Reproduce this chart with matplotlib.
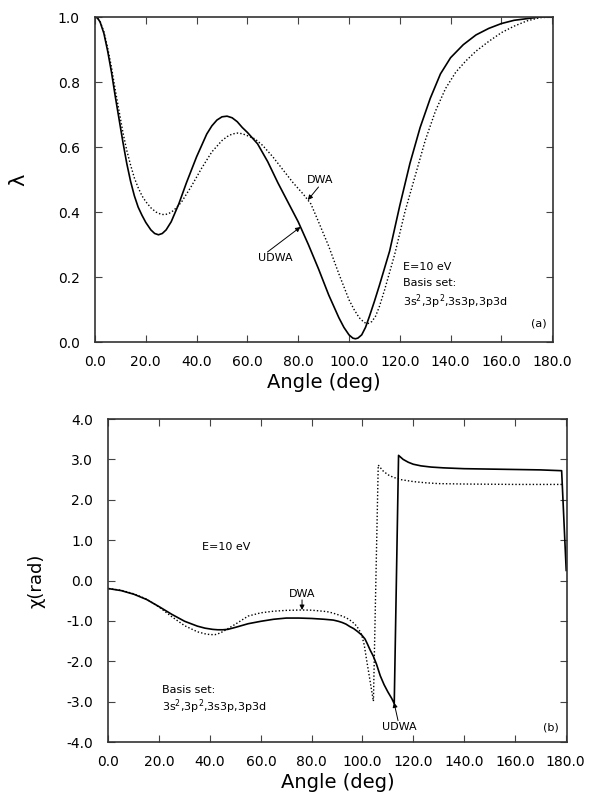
import matplotlib
matplotlib.use('Agg')
import matplotlib.pyplot as plt

plt.rcParams['font.family'] = 'DejaVu Sans'
plt.rcParams['axes.unicode_minus'] = False

# (a) lambda vs angle
lam_udwa_x = [0, 1, 2, 3.5, 5, 6.5, 8, 9.5, 11, 12.5, 14, 15.5, 17, 18.5, 20, 22, 23.5,
              25, 26.5, 28, 30, 33, 36, 40, 44, 46, 48, 50, 52, 54, 56, 58, 60, 64, 68,
              72, 76, 80, 84, 88, 92, 96, 98, 100, 101.5, 102.5, 103.5, 105, 106.5, 108,
              110, 112, 116, 120, 124, 128, 132, 136, 140, 145, 150, 155, 160, 165, 170,
              175, 180]
lam_udwa_y = [1.0, 0.997, 0.985, 0.95, 0.895, 0.83, 0.755, 0.685, 0.615, 0.55, 0.495,
              0.45, 0.415, 0.39, 0.368, 0.345, 0.334, 0.33, 0.334, 0.345, 0.37, 0.425,
              0.49, 0.57, 0.64, 0.665, 0.683, 0.693, 0.695, 0.69, 0.678, 0.66, 0.645,
              0.61, 0.555, 0.49, 0.43, 0.37, 0.30, 0.225, 0.145, 0.075, 0.045, 0.022,
              0.012, 0.01, 0.012, 0.022, 0.045, 0.078, 0.125, 0.175, 0.28, 0.42, 0.55,
              0.66, 0.75, 0.825, 0.875, 0.915, 0.945, 0.965, 0.98, 0.99, 0.995, 1.0, 1.0]

lam_dwa_x = [0, 1, 2, 3.5, 5, 6.5, 8, 9.5, 11, 12.5, 14, 15.5, 17, 18.5, 20, 22, 24, 26,
             27.5, 29, 31, 34, 38, 42, 46, 50, 52, 54, 56, 58, 60, 63, 66, 70, 74, 78,
             82, 85, 88, 92, 96, 100, 102, 104, 106, 107.5, 109, 110.5, 112, 114, 118,
             122, 126, 130, 134, 138, 142, 146, 150, 155, 160, 165, 170, 175, 180]
lam_dwa_y = [1.0, 0.997, 0.987, 0.955, 0.905, 0.845, 0.775, 0.71, 0.645, 0.59, 0.545,
             0.505, 0.475, 0.45, 0.432, 0.413, 0.40, 0.393, 0.392, 0.395, 0.405, 0.43,
             0.48, 0.535, 0.585, 0.62, 0.632, 0.64, 0.643, 0.641, 0.635, 0.625, 0.605,
             0.57, 0.53, 0.49, 0.455, 0.425, 0.37, 0.295, 0.21, 0.13, 0.10, 0.075, 0.06,
             0.057, 0.063, 0.08, 0.11, 0.16, 0.27, 0.40, 0.51, 0.62, 0.71, 0.78, 0.83,
             0.865, 0.895, 0.925, 0.952, 0.972, 0.988, 0.998, 1.0]

# (b) chi vs angle
chi_udwa_x = [0, 5, 10, 15, 20, 25, 30, 35, 38, 41, 43, 45, 47, 50, 55, 60, 65, 70, 75,
              80, 85, 88.5, 90.5, 92, 93.5, 95, 96.5, 98, 99.7, 101, 102, 103, 104.3,
              105.5, 107, 108.5, 110, 111.5, 112.5, 114.2, 116, 118, 120, 123, 127, 132,
              140, 150, 160, 170, 178.4, 180.2]
chi_udwa_y = [-0.20, -0.25, -0.34, -0.47, -0.65, -0.84, -1.01, -1.13, -1.18, -1.21,
              -1.22, -1.22, -1.21, -1.16, -1.07, -1.01, -0.96, -0.93, -0.93, -0.94,
              -0.96, -0.98, -1.01, -1.04, -1.08, -1.14, -1.19, -1.26, -1.35, -1.45,
              -1.58, -1.72, -1.88, -2.07, -2.36, -2.58, -2.76, -2.92, -3.05, 3.10, 3.0,
              2.93, 2.88, 2.84, 2.81, 2.79, 2.77, 2.76, 2.75, 2.74, 2.72, 0.25]

chi_dwa_x = [0, 5, 10, 15, 20, 25, 30, 35, 38, 40, 42, 44, 46, 50, 55, 60, 65, 70, 76,
             80, 86, 88, 90, 92, 93.8, 95.5, 97, 98.5, 99.7, 100.7, 101.6, 102.5, 103.4,
             104.3, 106.2, 108, 110, 112, 115, 120, 125, 130, 140, 150, 160, 170, 178.5]
chi_dwa_y = [-0.20, -0.24, -0.33, -0.46, -0.66, -0.90, -1.12, -1.27, -1.32, -1.34,
             -1.34, -1.30, -1.23, -1.08, -0.88, -0.80, -0.76, -0.74, -0.73, -0.735,
             -0.77, -0.80, -0.84, -0.88, -0.93, -1.0, -1.08, -1.2, -1.35, -1.6, -1.96,
             -2.3, -2.65, -2.99, 2.86, 2.72, 2.62, 2.56, 2.50, 2.45, 2.42, 2.40, 2.39,
             2.385, 2.38, 2.38, 2.38]

x_ticks = [0, 20, 40, 60, 80, 100, 120, 140, 160, 180]
lam_ticks = [0.0, 0.2, 0.4, 0.6, 0.8, 1.0]
chi_ticks = [-4.0, -3.0, -2.0, -1.0, 0.0, 1.0, 2.0, 3.0, 4.0]

fig = plt.figure(figsize=(5.97, 7.93), dpi=100)
ax1 = fig.add_axes([0.1591, 0.5687, 0.768, 0.4098])
ax2 = fig.add_axes([0.1817, 0.0643, 0.768, 0.4073])

arrow = dict(arrowstyle='-|>', lw=0.7, color='k', mutation_scale=7, shrinkA=0, shrinkB=0)
small = 8

for ax, yt in ((ax1, lam_ticks), (ax2, chi_ticks)):
    ax.set_xlim(0, 180.5)
    ax.set_xticks(x_ticks)
    ax.set_xticklabels([f"{v:.1f}" for v in x_ticks], fontsize=10)
    ax.set_yticks(yt)
    ax.set_yticklabels([f"{v:.1f}" for v in yt], fontsize=10)
    ax.tick_params(direction='in', top=True, right=True, length=5, width=0.8,
                   color='#444444', pad=9)
    ax.tick_params(axis='y', pad=11)
    for s in ax.spines.values():
        s.set_color('#333333')
        s.set_linewidth(1.2)
    ax.set_xlabel("Angle (deg)", fontsize=14)
    ax.xaxis.set_label_coords(0.5, -0.095)

# --- panel (a)
ax1.plot(lam_udwa_x, lam_udwa_y, color='k', lw=1.2)
ax1.plot(lam_dwa_x, lam_dwa_y, color='k', lw=1.0, ls=(0, (1, 1.5)))
ax1.set_ylim(0, 1.0)
ax1.set_ylabel("λ", fontsize=15)
ax1.yaxis.set_label_coords(-0.146, 0.5)

ax1.text(88.8, 0.498, "DWA", fontsize=small, ha='center', va='center')
ax1.annotate("", xy=(83.8, 0.437), xytext=(88.0, 0.477), arrowprops=arrow)
ax1.text(71.0, 0.258, "UDWA", fontsize=small, ha='center', va='center')
ax1.annotate("", xy=(80.9, 0.354), xytext=(67.9, 0.277), arrowprops=arrow)
ax1.text(121.1, 0.231, "E=10 eV", fontsize=small, va='center')
ax1.text(121.1, 0.182, "Basis set:", fontsize=small, va='center')
ax1.text(121.1, 0.123, "3s$^2$,3p$^2$,3s3p,3p3d", fontsize=small, va='center')
ax1.text(174.8, 0.058, "(a)", fontsize=small, ha='center', va='center')

# --- panel (b)
ax2.plot(chi_udwa_x, chi_udwa_y, color='k', lw=1.2)
ax2.plot(chi_dwa_x, chi_dwa_y, color='k', lw=1.0, ls=(0, (1, 1.5)))
ax2.set_ylim(-4.0, 4.0)
ax2.set_ylabel("χ(rad)", fontsize=13)
ax2.yaxis.set_label_coords(-0.137, 0.5)

ax2.text(36.8, 0.83, "E=10 eV", fontsize=small, va='center')
ax2.text(21.1, -2.70, "Basis set:", fontsize=small, va='center')
ax2.text(21.1, -3.12, "3s$^2$,3p$^2$,3s3p,3p3d", fontsize=small, va='center')
ax2.text(76.2, -0.33, "DWA", fontsize=small, ha='center', va='center')
ax2.annotate("", xy=(76.2, -0.73), xytext=(76.2, -0.48), arrowprops=arrow)
ax2.text(114.4, -3.64, "UDWA", fontsize=small, ha='center', va='center')
ax2.annotate("", xy=(112.4, -3.02), xytext=(114.0, -3.47), arrowprops=arrow)
ax2.text(174.2, -3.64, "(b)", fontsize=small, ha='center', va='center')

fig.savefig("out.png", dpi=100)
plt.close(fig)
